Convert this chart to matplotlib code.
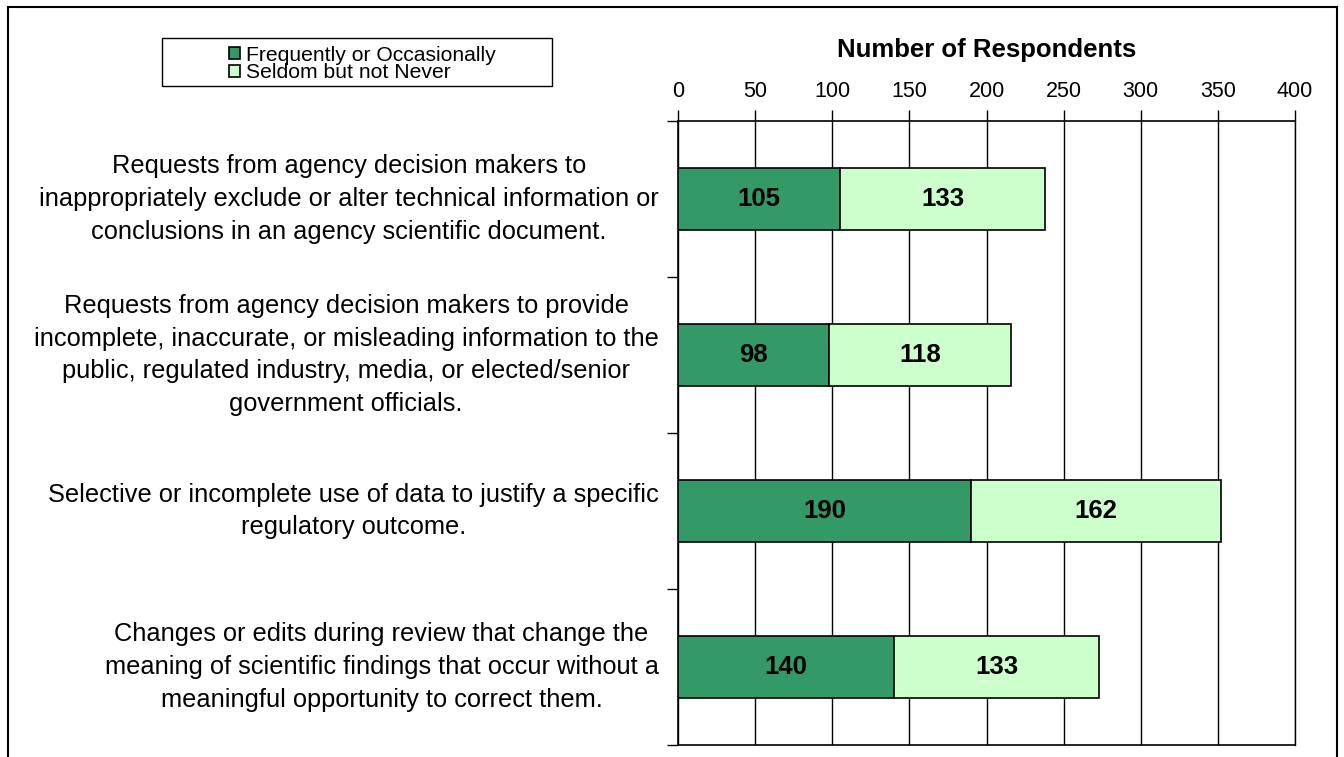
import matplotlib.pyplot as plt
from matplotlib.patches import Rectangle
import numpy as np

# dados do gráfico
categorias = [
    "Requests from agency decision makers to\ninappropriately exclude or alter technical information or\nconclusions in an agency scientific document.",
    "Requests from agency decision makers to provide\nincomplete, inaccurate, or misleading information to the\npublic, regulated industry, media, or elected/senior\ngovernment officials.",
    "Selective or incomplete use of data to justify a specific\nregulatory outcome.",
    "Changes or edits during review that change the\nmeaning of scientific findings that occur without a\nmeaningful opportunity to correct them.",
]
frequente = [105, 98, 190, 140]
raramente = [133, 118, 162, 133]
series_nomes = ["Frequently or Occasionally", "Seldom but not Never"]
cores = ["#339966", "#CCFFCC"]
x_ticks = [0, 50, 100, 150, 200, 250, 300, 350, 400]

plt.rcParams['font.family'] = ['Liberation Sans', 'DejaVu Sans']

fig = plt.figure(figsize=(13.44, 7.57), dpi=100)
ax = fig.add_axes([678 / 1344, 1 - 745 / 757, (1295 - 678) / 1344, (745 - 121) / 757])

y = np.arange(len(categorias))
b1 = ax.barh(y, frequente, height=0.4, color=cores[0], edgecolor='black', linewidth=1.2,
             label=series_nomes[0], zorder=3)
b2 = ax.barh(y, raramente, left=frequente, height=0.4, color=cores[1], edgecolor='black',
             linewidth=1.2, label=series_nomes[1], zorder=3)
ax.bar_label(b1, label_type='center', fontsize=18.5, fontweight='bold')
ax.bar_label(b2, label_type='center', fontsize=18.5, fontweight='bold')

ax.set_xlim(0, 400)
ax.set_ylim(len(categorias) - 0.5, -0.5)

# eixo x no topo
ax.xaxis.tick_top()
ax.xaxis.set_label_position('top')
ax.set_xticks(x_ticks)
ax.tick_params(axis='x', labelsize=15.5, length=8, width=1, pad=6, color='black')
ax.set_xlabel("Number of Respondents", fontsize=18.5, fontweight='bold', labelpad=17)
ax.grid(axis='x', color='black', linewidth=1, zorder=0)

# ticks de categoria nas bordas, rótulos no centro
ax.set_yticks(np.arange(len(categorias) + 1) - 0.5)
ax.set_yticklabels([])
ax.set_yticks(y, minor=True)
ax.set_yticklabels(categorias, minor=True, fontsize=18.3)
ax.tick_params(axis='y', which='major', length=8, width=1)
ax.tick_params(axis='y', which='minor', length=0, pad=14)
for lbl in ax.get_yticklabels(minor=True):
    lbl.set_multialignment('center')
    lbl.set_linespacing(1.45)
    lbl.set_verticalalignment('center')

for lado in ['top', 'bottom', 'left']:
    ax.spines[lado].set_linewidth(1.2)
ax.spines['right'].set_linewidth(1)

# caixa da legenda
fig.patches.append(Rectangle((162 / 1344, 1 - 86 / 757), 390 / 1344, 48 / 757,
                             transform=fig.transFigure, fill=False, edgecolor='black',
                             linewidth=1))
fig.legend(handles=[b1, b2], loc='center', bbox_to_anchor=(362 / 1344, 1 - 64 / 757),
           frameon=False, fontsize=15.2, handlelength=0.55, handleheight=0.55,
           handletextpad=0.25, labelspacing=-0.05, borderpad=0)

# borda da figura
fig.patches.append(Rectangle((8 / 1344, -0.02), 1329 / 1344, 1 - 7 / 757 + 0.02,
                             transform=fig.transFigure, fill=False, edgecolor='black',
                             linewidth=1.5))

fig.savefig("out.png", dpi=100)
